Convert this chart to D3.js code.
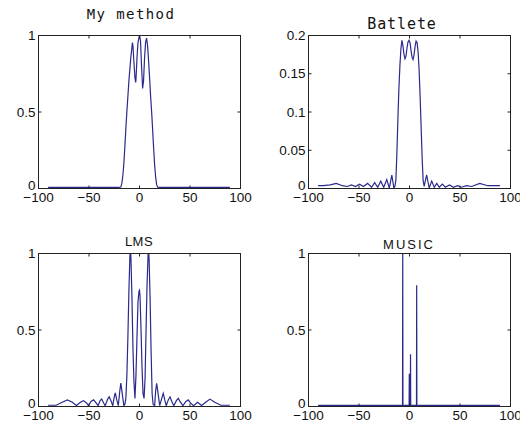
<!DOCTYPE html>
<html><head><meta charset="utf-8">
<script src="https://cdn.jsdelivr.net/npm/d3@7"></script>
<style>
html,body{margin:0;padding:0;background:#fff;}
svg{display:block;}
</style></head>
<body>
<svg id="chart" width="520" height="427"></svg>
<script>
// ---- Data ----
const xTicks = [-100, -50, 0, 50, 100];
const yTicksUnit = [0, 0.5, 1];
const yTicksBatlete = [0, 0.05, 0.1, 0.15, 0.2];

const titles = ["My method", "Batlete", "LMS", "MUSIC"];

const myMethodX = [-90, -20, -18, -17, -16, -15, -14, -13, -12, -11, -10, -9, -8, -7, -6.5, -6, -5, -4, -3.3, -3, -2, -1, 0.5, 1.5, 2.5, 3.6, 4.5, 5.5, 6.5, 7.5, 8.5, 9.5, 10.5, 11.5, 12.5, 13.5, 14.5, 15.5, 16.5, 17.5, 18.5, 20, 90];
const myMethodY = [0.004, 0.004, 0.006, 0.03, 0.08, 0.16, 0.27, 0.39, 0.5, 0.6, 0.7, 0.78, 0.86, 0.92, 0.95, 0.93, 0.82, 0.72, 0.69, 0.71, 0.85, 0.95, 1.0, 0.96, 0.8, 0.65, 0.7, 0.85, 0.95, 0.98, 0.93, 0.83, 0.72, 0.6, 0.5, 0.38, 0.26, 0.15, 0.07, 0.02, 0.005, 0.004, 0.004];

const batleteX = [-90, -85, -78, -72, -66, -61, -57, -53, -49, -45, -41, -37, -34, -31, -28, -25, -22, -19.5, -17, -15, -14, -13, -12, -11, -10, -9, -8, -7, -6, -5, -4, -3, -2, -1, 0, 1, 2, 3, 4, 5, 6, 7, 8, 9, 10, 11, 12, 13, 14, 15, 17.5, 20, 22.5, 25, 27.5, 30, 33, 36, 40, 44, 48, 52, 57, 62, 70, 78, 85, 90];
const batleteY = [0.003, 0.003, 0.004, 0.006, 0.003, 0.002, 0.004, 0.002, 0.005, 0.002, 0.006, 0.001, 0.007, 0.001, 0.009, 0.001, 0.011, 0.0, 0.017, 0.0, 0.002, 0.01, 0.045, 0.09, 0.13, 0.16, 0.182, 0.193, 0.186, 0.175, 0.169, 0.172, 0.183, 0.191, 0.193, 0.19, 0.18, 0.171, 0.168, 0.174, 0.185, 0.192, 0.19, 0.178, 0.155, 0.12, 0.08, 0.04, 0.01, 0.002, 0.017, 0.0, 0.009, 0.001, 0.006, 0.001, 0.005, 0.001, 0.004, 0.001, 0.003, 0.001, 0.003, 0.002, 0.006, 0.003, 0.003, 0.003];

const lmsX = [-90, -82, -76, -71, -66, -62, -58, -55, -52, -50, -47.5, -45, -42.5, -40.5, -38.5, -37, -35, -33.5, -31, -29.5, -27.5, -26, -24.5, -23.5, -22, -20.5, -19, -18, -17, -15, -14, -13, -12, -11, -10, -9, -8.5, -8, -7, -6, -5, -4, -3, -2, -1, 0, 0.5, 1, 2, 3, 4, 5, 6, 7, 8, 9, 9.5, 10, 11, 12, 13, 14, 15.5, 16.5, 17.5, 18.5, 20.5, 22.5, 24, 25.5, 27, 29, 30.7, 32.5, 34.5, 37, 38.9, 41, 43.5, 46.5, 48.8, 51, 54, 58, 62, 66, 70.3, 75, 81, 90];
const lmsY = [0.005, 0.005, 0.025, 0.04, 0.025, 0.003, 0.025, 0.035, 0.02, 0.002, 0.03, 0.04, 0.02, 0.002, 0.035, 0.046, 0.02, 0.002, 0.045, 0.06, 0.03, 0.002, 0.06, 0.085, 0.04, 0.002, 0.1, 0.15, 0.1, 0.003, 0.01, 0.05, 0.2, 0.45, 0.75, 0.98, 1.02, 0.97, 0.72, 0.38, 0.16, 0.05, 0.2, 0.45, 0.68, 0.75, 0.756, 0.72, 0.5, 0.25, 0.08, 0.05, 0.18, 0.5, 0.8, 0.99, 1.02, 0.96, 0.7, 0.35, 0.08, 0.01, 0.003, 0.1, 0.148, 0.1, 0.002, 0.05, 0.083, 0.04, 0.002, 0.04, 0.06, 0.03, 0.002, 0.035, 0.05, 0.025, 0.002, 0.03, 0.04, 0.02, 0.002, 0.025, 0.003, 0.025, 0.045, 0.025, 0.005, 0.005];

const musicX = [-90, -6.4, -6.2, -6.0, 0.1, 0.3, 0.5, 1.3, 1.5, 1.7, 7.4, 7.6, 7.8, 90];
const musicY = [0.004, 0.004, 1.05, 0.004, 0.004, 0.21, 0.004, 0.004, 0.338, 0.004, 0.004, 0.79, 0.004, 0.004];

// ---- Layout ----
const panels = [
  {x0: 38, x1: 240, y0: 35, y1: 188, yDomain: [0, 1], yTicks: yTicksUnit, xs: myMethodX, ys: myMethodY, title: titles[0], tx: 131, ty: 19, tfont: "'DejaVu Sans Mono', monospace", tsize: 14, tls: 1.4},
  {x0: 308, x1: 510, y0: 35, y1: 188, yDomain: [0, 0.2], yTicks: yTicksBatlete, xs: batleteX, ys: batleteY, title: titles[1], tx: 402, ty: 29, tfont: "'DejaVu Sans Mono', monospace", tsize: 15, tls: 0.9},
  {x0: 38, x1: 240, y0: 253, y1: 406, yDomain: [0, 1], yTicks: yTicksUnit, xs: lmsX, ys: lmsY, title: titles[2], tx: 139, ty: 246, tfont: "'Liberation Sans Narrow', 'Liberation Sans', Arial, sans-serif", tsize: 13, tls: 0.5},
  {x0: 308, x1: 510, y0: 253, y1: 406, yDomain: [0, 1], yTicks: yTicksUnit, xs: musicX, ys: musicY, title: titles[3], tx: 409, ty: 249, tfont: "'Liberation Sans Narrow', 'Liberation Sans', Arial, sans-serif", tsize: 13, tls: 2}
];

const svg = d3.select("#chart");
const lineColor = "#2a2a8c";
const tickFont = "'Liberation Sans', Arial, sans-serif";

panels.forEach((p, i) => {
  const x = d3.scaleLinear().domain([-100, 100]).range([p.x0, p.x1]);
  const y = d3.scaleLinear().domain(p.yDomain).range([p.y1, p.y0]);
  const g = svg.append("g");

  g.append("clipPath").attr("id", "clip" + i)
    .append("rect").attr("x", p.x0).attr("y", p.y0).attr("width", p.x1 - p.x0).attr("height", p.y1 - p.y0);

  const data = p.xs.map((v, k) => [v, p.ys[k]]);
  g.append("path")
    .datum(data)
    .attr("clip-path", "url(#clip" + i + ")")
    .attr("fill", "none")
    .attr("stroke", lineColor)
    .attr("stroke-width", 1.2)
    .attr("stroke-linejoin", "miter")
    .attr("d", d3.line().x(d => x(d[0])).y(d => y(d[1])));

  // box
  g.append("rect").attr("x", p.x0 + 0.5).attr("y", p.y0 + 0.5)
    .attr("width", p.x1 - p.x0).attr("height", p.y1 - p.y0)
    .attr("fill", "none").attr("stroke", "#222").attr("stroke-width", 1);

  // axes (inward ticks, MATLAB style)
  const xAxisB = d3.axisBottom(x).tickValues(xTicks).tickSize(-3).tickPadding(7).tickFormat(d3.format("d"));
  const xAxisT = d3.axisTop(x).tickValues(xTicks).tickSize(-3).tickFormat("");
  const yAxisL = d3.axisLeft(y).tickValues(p.yTicks).tickSize(-3).tickPadding(6).tickFormat(d => String(d));
  const yAxisR = d3.axisRight(y).tickValues(p.yTicks).tickSize(-3).tickFormat("");

  const gb = g.append("g").attr("transform", `translate(0,${p.y1 + 0.5})`).call(xAxisB);
  const gt = g.append("g").attr("transform", `translate(0,${p.y0 + 0.5})`).call(xAxisT);
  const gl = g.append("g").attr("transform", `translate(${p.x0 + 0.5},0)`).call(yAxisL);
  const gr = g.append("g").attr("transform", `translate(${p.x1 + 0.5},0)`).call(yAxisR);
  [gb, gt, gl, gr].forEach(a => {
    a.select(".domain").remove();
    a.selectAll("line").attr("stroke", "#222");
    a.selectAll("text").attr("fill", "#111").style("font-family", tickFont).style("font-size", "13.5px");
  });
  gb.selectAll("text").attr("dy", "0.45em");
  gl.selectAll("text").attr("x", -3).attr("dy", "0.34em");
  gl.selectAll(".tick").filter(d => d === 0).select("text").attr("dy", "0.12em");

  g.append("text")
    .attr("x", p.tx).attr("y", p.ty)
    .attr("text-anchor", "middle")
    .style("font-family", p.tfont)
    .style("font-size", p.tsize + "px")
    .style("letter-spacing", p.tls + "px")
    .attr("fill", "#111")
    .text(p.title);
});
</script>
</body></html>
